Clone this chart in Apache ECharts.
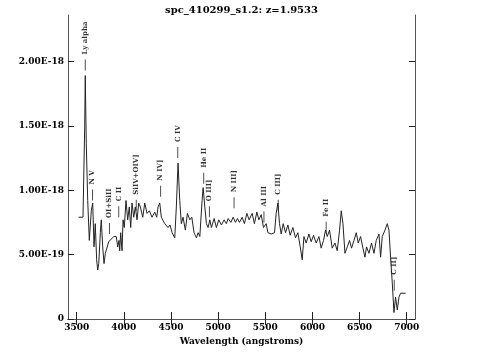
<!DOCTYPE html>
<html>
<head>
<meta charset="utf-8">
<script src="https://cdn.jsdelivr.net/npm/echarts@6/dist/echarts.min.js"></script>
<style>
  html, body {margin: 0; padding: 0; background: #fff;}
  #chart {width: 483px; height: 358px;}
</style>
</head>
<body>
<div id="chart"></div>
<script>
// spectrum, flux in units of 1e-19
const wavelength = [
  3520, 3567, 3585, 3591, 3602, 3617, 3634, 3655, 3670, 3684, 3697, 3712, 3723, 3734, 3751, 3761,
  3776, 3790, 3804, 3840, 3893, 3920, 3935, 3949, 3956, 3967, 3981, 3992, 4005, 4023, 4041, 4058,
  4073, 4087, 4105, 4122, 4140, 4158, 4175, 4201, 4222, 4246, 4271, 4299, 4328, 4349, 4363, 4381,
  4398, 4434, 4469, 4490, 4512, 4540, 4557, 4575, 4593, 4610, 4628, 4653, 4674, 4700, 4721, 4745,
  4770, 4788, 4806, 4830, 4841, 4859, 4876, 4894, 4912, 4929, 4958, 4982, 5007, 5035, 5064, 5088,
  5106, 5135, 5159, 5184, 5205, 5226, 5255, 5279, 5305, 5329, 5361, 5385, 5411, 5432, 5457, 5481,
  5510, 5528, 5563, 5598, 5616, 5634, 5651, 5669, 5690, 5715, 5740, 5764, 5793, 5821, 5846, 5871,
  5892, 5910, 5934, 5963, 5987, 6012, 6040, 6069, 6093, 6118, 6139, 6157, 6182, 6210, 6239, 6263,
  6288, 6306, 6324, 6345, 6370, 6394, 6415, 6441, 6465, 6486, 6511, 6536, 6557, 6574, 6600, 6627,
  6653, 6677, 6706, 6723, 6741, 6770, 6794, 6812, 6829, 6847, 6865, 6882, 6900, 6918, 6935, 6953,
  6988
]
const flux = [
  7.9, 7.9, 14.9, 18.9, 13.6, 9.2, 6.1, 8.4, 9.0, 5.6, 7.4, 4.6, 3.8, 4.3, 6.7, 7.7,
  5.6, 4.3, 5.1, 6.0, 6.4, 6.4, 5.6, 6.1, 5.3, 6.7, 5.3, 7.7, 7.1, 9.2, 7.7, 8.7,
  7.1, 9.0, 7.9, 8.7, 7.7, 9.0, 8.7, 7.9, 9.0, 8.2, 8.4, 7.9, 8.3, 7.9, 8.7, 9.0,
  7.9, 7.4, 7.1, 7.3, 6.7, 6.3, 8.7, 12.1, 9.2, 7.4, 7.9, 6.9, 8.2, 7.7, 7.9, 6.7,
  6.3, 6.7, 6.4, 9.2, 10.2, 8.7, 7.4, 7.1, 7.7, 7.1, 7.8, 7.1, 7.7, 7.3, 7.7, 7.4,
  7.8, 7.5, 7.9, 7.5, 7.8, 7.5, 7.9, 7.4, 8.2, 7.7, 8.2, 7.4, 8.3, 7.7, 8.1, 7.1,
  7.4, 6.7, 6.6, 6.7, 8.2, 9.0, 7.4, 6.6, 7.4, 6.7, 7.3, 6.5, 7.1, 6.3, 6.7, 5.6,
  4.6, 6.4, 5.9, 6.6, 6.0, 6.5, 5.9, 6.4, 5.5, 6.1, 6.9, 6.4, 6.9, 5.5, 5.9, 5.3,
  6.9, 8.4, 7.4, 5.1, 5.6, 6.1, 5.5, 6.1, 6.7, 5.9, 6.4, 5.5, 4.8, 5.6, 5.1, 5.9,
  5.1, 6.1, 6.6, 4.8, 6.4, 6.9, 7.4, 6.9, 4.8, 2.8, 0.5, 1.7, 0.7, 1.7, 2.0, 1.9,
  2.0
]

// emission line marks
const lineNames = ['Ly alpha', 'N V', 'OI+SiII', 'C II', 'SiIV+OIV]', 'N IV]', 'C IV', 'He II', 'O III]', 'N III]', 'Al III', 'C III]', 'Fe II', 'C II]']
const lineWave = [3591, 3668, 3848, 3946, 4132, 4390, 4572, 4847, 4908, 5169, 5486, 5637, 6146, 6868]
const lineMarkFlux = [19.3, 9.2, 6.6, 7.9, 8.4, 9.5, 12.5, 10.5, 7.9, 8.6, 7.5, 8.4, 6.7, 2.2]

const xTicks = [3500, 4000, 4500, 5000, 5500, 6000, 6500, 7000]
const yTicks = [0, 5, 10, 15, 20]

const font = 'DejaVu Serif'
const frameColor = '#555'

const fmtFlux = v => v === 0 ? '0' : (v * 1e-19).toExponential(2).toUpperCase()

const myChart = echarts.init(document.getElementById('chart'))

const xBase = {
  type: 'value',
  min: 3408,
  max: 7088,
  splitLine: {show: false},
  axisLine: {show: true, lineStyle: {color: frameColor}},
  axisTick: {show: true, inside: true, length: 7, customValues: xTicks, lineStyle: {color: '#222'}}
}
const yBase = {
  type: 'value',
  min: 0,
  max: 23.6,
  splitLine: {show: false},
  axisLine: {show: true, lineStyle: {color: frameColor}},
  axisTick: {show: true, inside: true, length: 6, customValues: yTicks, lineStyle: {color: '#222'}}
}

myChart.setOption({
  animation: false,
  title: {
    text: 'spc_410299_s1.2: z=1.9533',
    left: 'center',
    top: 0,
    textStyle: {fontFamily: font, fontWeight: 'bold', fontSize: 10, color: '#000'}
  },
  grid: {left: 68, right: 68, top: 15, bottom: 39},
  xAxis: [
    {
      ...xBase,
      position: 'bottom',
      name: 'Wavelength (angstroms)',
      nameLocation: 'middle',
      nameGap: 13,
      nameTextStyle: {fontFamily: font, fontWeight: 'bold', fontSize: 9, color: '#000'},
      axisLabel: {customValues: xTicks, margin: 4, fontFamily: font, fontWeight: 'bold', fontSize: 9, color: '#000', formatter: v => String(v)}
    },
    {...xBase, position: 'top', axisTick: {...xBase.axisTick, length: 6}, axisLabel: {show: false}}
  ],
  yAxis: [
    {
      ...yBase,
      position: 'left',
      axisLabel: {customValues: yTicks, margin: 4, fontFamily: font, fontWeight: 'bold', fontSize: 9, color: '#000', formatter: fmtFlux}
    },
    {...yBase, position: 'right', axisLabel: {show: false}}
  ],
  series: [
    {
      type: 'line',
      data: wavelength.map((w, i) => [w, flux[i]]),
      symbol: 'none',
      lineStyle: {width: 1, color: '#222'},
      silent: true
    },
    {
      type: 'scatter',
      data: lineWave.map((w, i) => ({name: lineNames[i], value: [w, lineMarkFlux[i]]})),
      symbol: 'rect',
      symbolSize: [1, 11],
      symbolOffset: [0, -5.5],
      itemStyle: {color: '#222'},
      silent: true,
      label: {
        show: true,
        formatter: '{b}',
        position: 'top',
        rotate: 90,
        align: 'left',
        verticalAlign: 'middle',
        distance: 5,
        fontFamily: font,
        fontWeight: 'bold',
        fontSize: 7,
        color: '#000'
      }
    }
  ]
})
</script>
</body>
</html>
